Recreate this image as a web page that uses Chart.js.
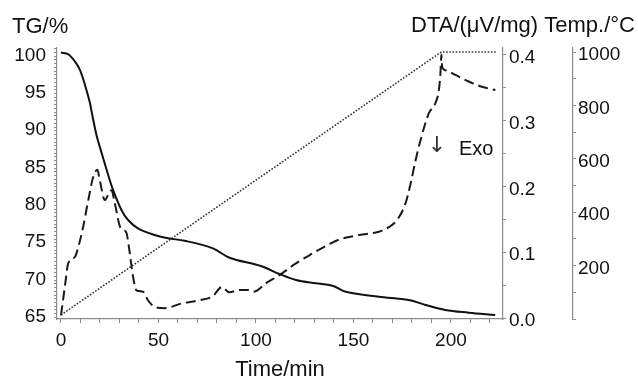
<!DOCTYPE html>
<html>
<head>
<meta charset="utf-8">
<script src="https://cdn.jsdelivr.net/npm/chart.js@4.4.1/dist/chart.umd.min.js"></script>
<style>
    html, body { margin: 0; padding: 0; background: #fff; }
    #wrap { width: 638px; height: 381px; position: relative; }
</style>
</head>
<body>
<div id="wrap"><canvas id="taChart"></canvas></div>
<script>
// TG curve (solid)
const tgTime = [0, 3.7, 7.2, 9.7, 12.3, 14.8, 15.7, 18.2, 21.6, 24.2, 26.7, 31, 34.4, 39.5, 48, 54.9, 63.4, 77.9, 86.4, 102.5, 112, 120.5, 130.7, 139.2, 146, 163, 178.4, 187, 197, 209, 222.7];
const tgValues = [100.0, 99.76, 98.77, 97.66, 95.65, 93.3, 92.07, 88.95, 85.86, 83.59, 81.58, 78.9, 77.56, 76.44, 75.55, 75.1, 74.78, 73.76, 72.5, 71.39, 70.32, 69.52, 69.07, 68.75, 67.95, 67.28, 66.84, 66.17, 65.5, 65.14, 64.83];

// DTA curve (dashed)
const dtaTime = [0, 2, 3.7, 7.2, 8.9, 11.4, 14, 16.5, 18.7, 19.9, 22.5, 24.2, 25.9, 27.6, 30.2, 31.9, 33.6, 35.3, 37, 38.7, 42.1, 44.6, 48.1, 53.2, 61.7, 71, 77.8, 82.5, 86.4, 91.5, 96.6, 99, 105.2, 112, 120.5, 129, 137.5, 142.6, 152.9, 163, 168.2, 172.4, 176.7, 179.3, 181.9, 184.4, 188.7, 192, 193.8, 194.6, 195.1, 195.5, 197.2, 202.3, 209.1, 215.9, 222.8];
const dtaValues = [0.004, 0.048, 0.083, 0.093, 0.108, 0.139, 0.179, 0.214, 0.225, 0.209, 0.179, 0.187, 0.194, 0.174, 0.139, 0.134, 0.129, 0.098, 0.062, 0.042, 0.040, 0.027, 0.017, 0.015, 0.022, 0.027, 0.033, 0.047, 0.039, 0.0425, 0.0425, 0.040, 0.053, 0.065, 0.083, 0.098, 0.112, 0.119, 0.126, 0.131, 0.138, 0.149, 0.174, 0.204, 0.240, 0.270, 0.311, 0.326, 0.346, 0.371, 0.400, 0.381, 0.376, 0.369, 0.359, 0.351, 0.346];

// Temperature program (dotted)
const tempTime = [0, 195, 223.5];
const tempValues = [15, 1000, 1000];

// axis labels
const tgLabels = [65, 70, 75, 80, 85, 90, 95, 100];
const dtaLabels = [0.0, 0.1, 0.2, 0.3, 0.4];
const tempLabels = [200, 400, 600, 800, 1000];
const timeLabels = [0, 50, 100, 150, 200];

const FONT = "'Liberation Sans', Arial, Helvetica, sans-serif";
const AXIS_GREY = '#8c8c8c';

function toPoints(xs, ys) {
    return xs.map((x, i) => ({ x: x, y: ys[i] }));
}

function hasLabel(list, v) {
    return list.some(l => Math.abs(l - v) < 1e-6);
}

// titles and the Exo marker above the plot
const textPlugin = {
    id: 'textPlugin',
    afterDraw(chart) {
        const ctx = chart.ctx;
        ctx.save();
        ctx.fillStyle = '#111';
        ctx.textBaseline = 'alphabetic';
        ctx.font = '22px ' + FONT;
        ctx.textAlign = 'left';
        ctx.fillText('TG/%', 12, 33);
        ctx.textAlign = 'right';
        ctx.fillText('DTA/(\u03bcV/mg) Temp./\u00b0C', 635, 32);

        ctx.font = '20px ' + FONT;
        ctx.textAlign = 'left';
        ctx.fillText('Exo', 459, 155);
        ctx.fillStyle = '#333';
        ctx.font = '22px DejaVu Sans, ' + FONT;
        ctx.textAlign = 'center';
        ctx.fillText('\u2193', 437, 152);
        ctx.restore();
    }
};

const ctx = document.getElementById('taChart').getContext('2d');

new Chart(ctx, {
    type: 'line',
    data: {
        datasets: [
            {
                label: 'TG',
                data: toPoints(tgTime, tgValues),
                yAxisID: 'y',
                borderColor: '#111',
                borderWidth: 2,
                pointRadius: 0,
                tension: 0.35,
                fill: false
            },
            {
                label: 'DTA',
                data: toPoints(dtaTime, dtaValues),
                yAxisID: 'yDta',
                borderColor: '#1a1a1a',
                borderWidth: 2,
                borderDash: [10, 5],
                pointRadius: 0,
                cubicInterpolationMode: 'monotone',
                fill: false
            },
            {
                label: 'Temp',
                data: toPoints(tempTime, tempValues),
                yAxisID: 'yTemp',
                borderColor: '#333',
                borderWidth: 1.6,
                borderDash: [1.6, 1.6],
                pointRadius: 0,
                tension: 0,
                fill: false
            }
        ]
    },
    options: {
        responsive: true,
        maintainAspectRatio: false,
        devicePixelRatio: 1,
        animation: false,
        layout: { padding: { top: 48, left: 0, right: 0, bottom: 0 } },
        plugins: {
            legend: { display: false },
            tooltip: { enabled: false }
        },
        scales: {
            x: {
                type: 'linear',
                min: -2.05,
                max: 226.7,
                afterFit: s => { s.height = 62; },
                border: { display: true, color: AXIS_GREY, width: 1.2 },
                grid: { drawOnChartArea: false, drawTicks: true, tickLength: 4, tickColor: AXIS_GREY },
                ticks: {
                    stepSize: 10,
                    includeBounds: false,
                    autoSkip: false,
                    maxRotation: 0,
                    padding: 6,
                    color: '#111',
                    font: { family: FONT, size: 19 },
                    callback: v => hasLabel(timeLabels, v) ? String(v) : ''
                },
                title: {
                    display: true,
                    text: 'Time/min',
                    color: '#111',
                    font: { family: FONT, size: 22, lineHeight: 1 },
                    padding: { top: 0, bottom: 0 }
                }
            },
            y: {
                type: 'linear',
                position: 'left',
                min: 64.29,
                max: 100.6,
                afterFit: s => { s.width = 57; },
                border: { display: true, color: AXIS_GREY, width: 1.2 },
                grid: { drawOnChartArea: false, drawTicks: true, tickLength: 3, tickColor: AXIS_GREY },
                ticks: {
                    stepSize: 0.5,
                    includeBounds: false,
                    autoSkip: false,
                    padding: 8,
                    labelOffset: 3,
                    color: '#111',
                    font: { family: FONT, size: 19 },
                    callback: v => hasLabel(tgLabels, v) ? String(v) : ''
                }
            },
            yDta: {
                type: 'linear',
                position: 'right',
                weight: 0,
                min: -0.0015,
                max: 0.4099,
                afterFit: s => { s.width = 70; },
                border: { display: true, color: AXIS_GREY, width: 1.2 },
                grid: { drawOnChartArea: false, drawTicks: true, tickLength: 3, tickColor: AXIS_GREY },
                ticks: {
                    stepSize: 0.05,
                    includeBounds: false,
                    autoSkip: false,
                    padding: 3,
                    labelOffset: 3,
                    color: '#111',
                    font: { family: FONT, size: 19 },
                    callback: v => hasLabel(dtaLabels, v) ? v.toFixed(1) : ''
                }
            },
            yTemp: {
                type: 'linear',
                position: 'right',
                weight: 1,
                min: 0,
                max: 1015,
                afterFit: s => { s.width = 65; },
                border: { display: true, color: AXIS_GREY, width: 1.2 },
                grid: { drawOnChartArea: false, drawTicks: true, tickLength: 3, tickColor: AXIS_GREY },
                ticks: {
                    stepSize: 100,
                    includeBounds: false,
                    autoSkip: false,
                    padding: 2,
                    labelOffset: 3,
                    color: '#111',
                    font: { family: FONT, size: 19 },
                    callback: v => hasLabel(tempLabels, v) ? String(v) : ''
                }
            }
        }
    },
    plugins: [textPlugin]
});
</script>
</body>
</html>
